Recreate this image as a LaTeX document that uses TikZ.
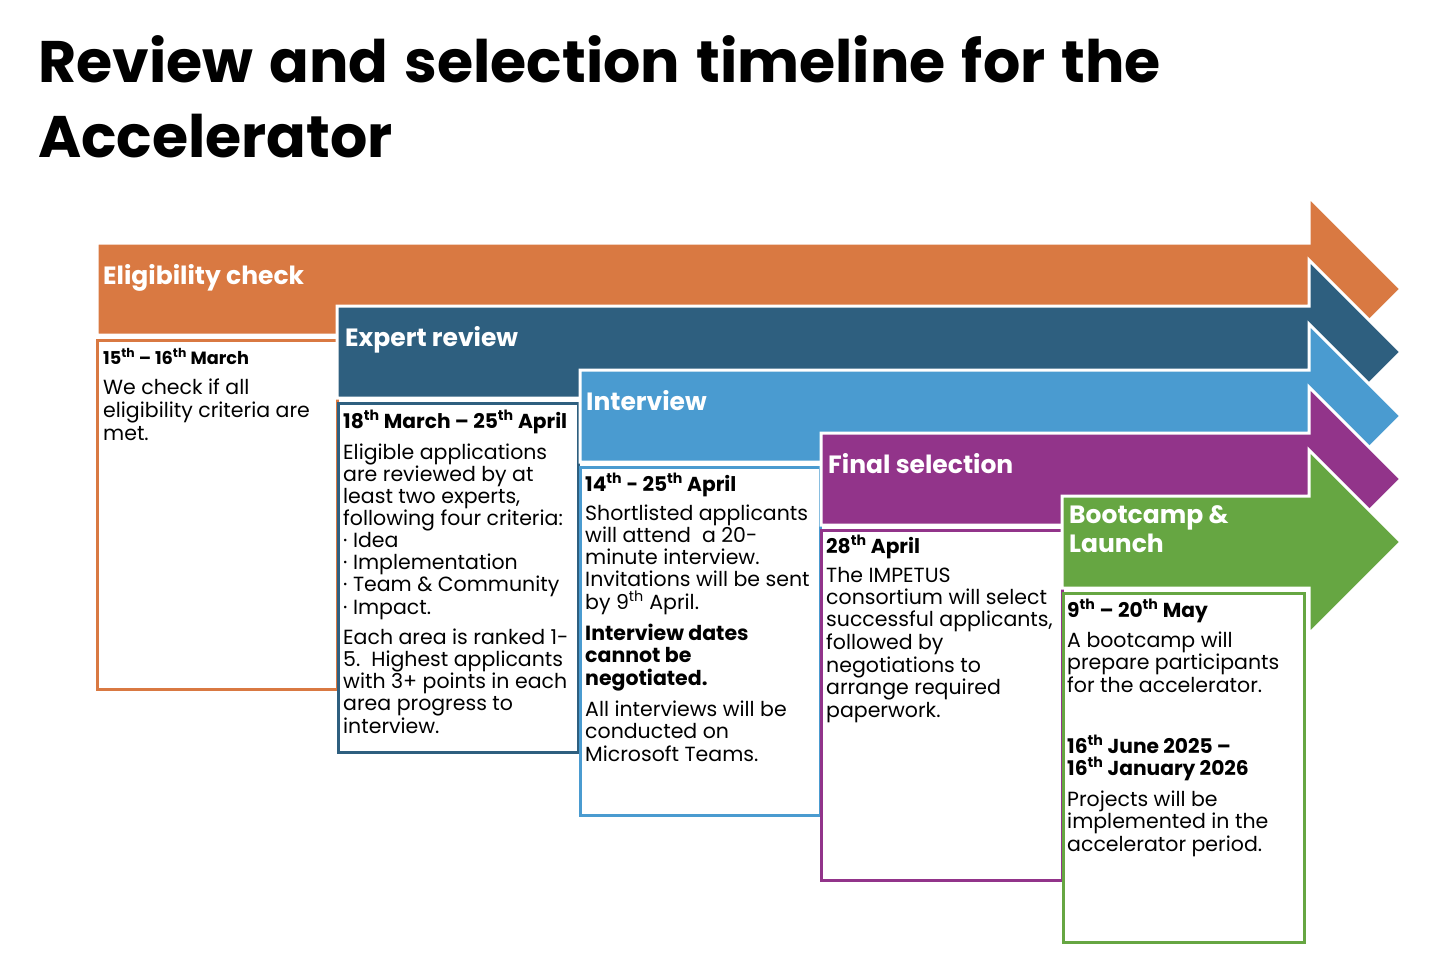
\documentclass[tikz,border=0pt]{standalone}
\usepackage{fontspec}
\setmainfont{Poppins}
\newfontfamily\titlefont[WordSpace=1.3]{Poppins}
\definecolor{cOrange}{RGB}{217,121,66}
\definecolor{cDark}{RGB}{46,95,127}
\definecolor{cLight}{RGB}{74,155,208}
\definecolor{cPurple}{RGB}{146,52,138}
\definecolor{cGreen}{RGB}{102,166,66}
\newcommand\sth{\textsuperscript{th}}
\newcommand\stagearrow[4]{% name, left x, centre y, colour
  \path[fill=#4, draw=white, line width=3] (#2,#3-46) -- (1309,#3-46) -- (1309,#3-92) -- (1401,#3) -- (1309,#3+92) -- (1309,#3+46) -- (#2,#3+46) -- cycle;
  \coordinate (#1) at (#2,#3);}
% nodes are placed by the baseline of their LAST line
\tikzset{
  box/.style={draw=#1, line width=3, fill=white},
  txt/.style={anchor=base west, inner sep=0, align=left, font=\fontsize{20.5}{22.1}\selectfont},
  btxt/.style={txt, font=\fontsize{20.5}{22.1}\selectfont\bfseries},
  hdr/.style={anchor=base west, inner sep=0, align=left, font=\fontsize{20.2}{21.5}\selectfont\bfseries},
  shdr/.style={hdr, font=\fontsize{17.7}{21}\selectfont\bfseries},
  lbl/.style={anchor=base west, inner sep=0, align=left, text=white, font=\fontsize{25}{29}\selectfont\bfseries},
  ttl/.style={anchor=base west, inner sep=0, align=left, font=\titlefont\fontsize{58.6}{75}\selectfont\bfseries},
}
\begin{document}
\begin{tikzpicture}[x=1pt,y=-1pt]
\useasboundingbox[fill=white] (0,0) rectangle (1456,972);
\node[ttl] (title) at (38,157) {Review and selection timeline for the\\Accelerator};
% stage 1
\stagearrow{a1}{97}{289}{cOrange}
\path[box=cOrange] (97,340) rectangle (337,689);
\node[lbl] (l1) at (103,284) {Eligibility check};
\node[shdr] (h1) at (103,364) {15\sth{} – 16\sth{} March};
\node[txt, font=\fontsize{20.5}{23}\selectfont] (t1) at (103,440) {We check if all\\eligibility criteria are\\met.};
% stage 2
\stagearrow{a2}{337}{352}{cDark}
\path[box=cDark] (338,403) rectangle (578,752);
\node[lbl] (l2) at (345,346) {Expert review};
\node[hdr] (h2) at (343,428) {18\sth{} March – 25\sth{} April};
\node[txt] (t2) at (343,614) {Eligible applications\\are reviewed by at\\least two experts,\\following four criteria:\\· Idea\\· Implementation\\· Team \& Community\\· Impact.};
\node[txt] (t2b) at (343,733) {Each area is ranked 1-\\5.\ \ Highest applicants\\with 3+ points in each\\area progress to\\interview.};
% stage 3
\stagearrow{a3}{580}{416}{cLight}
\path[box=cLight] (580,467) rectangle (820,815);
\node[lbl] (l3) at (586,410) {Interview};
\node[hdr] (h3) at (585,491) {14\sth{} - 25\sth{} April};
\node[txt] (t3) at (585,609) {Shortlisted applicants\\will attend\ \ a 20-\\minute interview.\\Invitations will be sent\\by 9\sth{} April.};
\node[btxt] (t3b) at (585,685) {Interview dates\\cannot be\\negotiated.};
\node[txt] (t3c) at (585,761) {All interviews will be\\conducted on\\Microsoft Teams.};
% stage 4
\stagearrow{a4}{821}{479}{cPurple}
\path[box=cPurple] (821,530) rectangle (1062,880);
\node[lbl] (l4) at (828,473) {Final selection};
\node[hdr] (h4) at (826,553) {28\sth{} April};
\node[txt] (t4) at (826,649) {The IMPETUS\\consortium will select\\successful applicants,\\followed by};
\node[txt] (t4b) at (826,717) {negotiations to\\arrange required\\paperwork.};
% stage 5
\stagearrow{a5}{1062}{542}{cGreen}
\path[box=cGreen] (1063,593) rectangle (1304,942);
\node[lbl] (l5) at (1069,552) {Bootcamp \&\\Launch};
\node[hdr] (h5) at (1067,617) {9\sth{} – 20\sth{} May};
\node[txt] (t5) at (1067,692) {A bootcamp will\\prepare participants\\for the accelerator.};
\node[hdr] (h5b) at (1067,775) {16\sth{} June 2025 –\\16\sth{} January 2026};
\node[txt] (t5b) at (1067,851) {Projects will be\\implemented in the\\accelerator period.};
\end{tikzpicture}
\end{document}
